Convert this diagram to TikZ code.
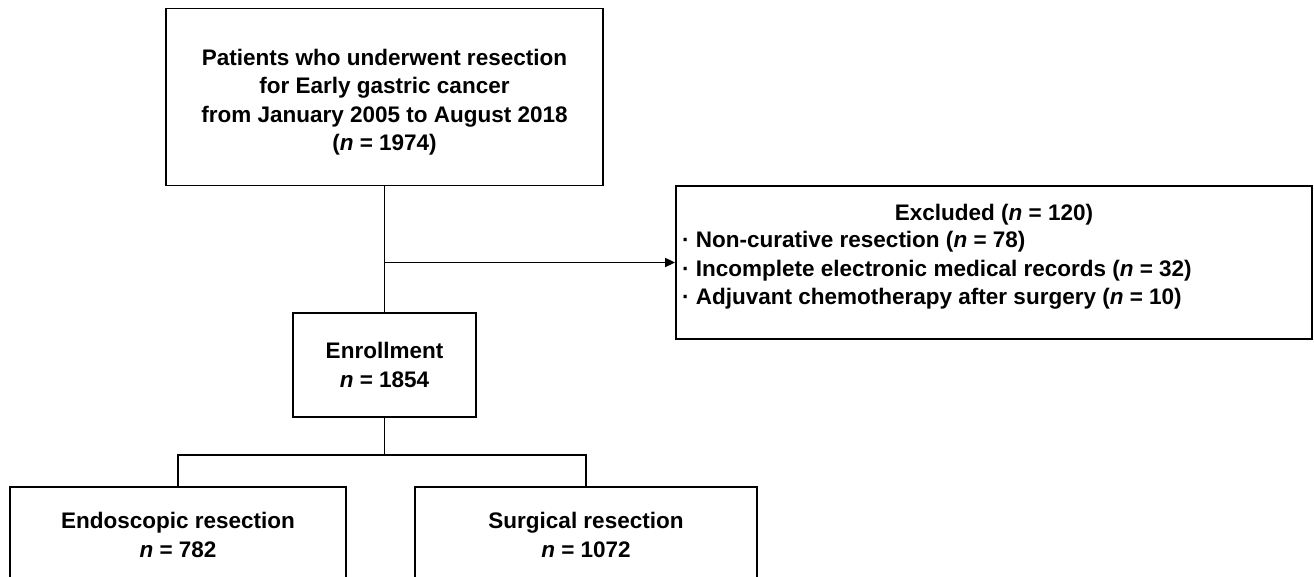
\documentclass[tikz,border=0pt]{standalone}
\usepackage{fontspec}
\setmainfont{Liberation Sans}
\usetikzlibrary{arrows.meta}
\begin{document}
\begin{tikzpicture}[x=1pt,y=-1pt,
  box/.style={draw=black, line width=1.8pt, inner sep=0pt, fill=white},
  lbl/.style={font=\bfseries\fontsize{22.5}{28.5}\selectfont, align=center, inner sep=0pt},
  conn/.style={line width=1.7pt, black},
  arr/.style={conn, -{Triangle[length=10pt,width=9pt]}}]
\useasboundingbox (0,0) rectangle (1314,577);
\clip (0,0) rectangle (1314,577);
% boxes
\node[box, minimum width=437pt, minimum height=177pt] (top) at (384.5,97) {};
\node[box, minimum width=636pt, minimum height=153pt] (excl) at (994,262.5) {};
\node[box, minimum width=183pt, minimum height=104pt] (enr) at (384.5,365) {};
\node[box, minimum width=336pt, minimum height=140pt, anchor=north] (endo) at (178,486) {};
\node[box, minimum width=342pt, minimum height=140pt, anchor=north] (surg) at (586,486) {};
% labels
\node[lbl] (toptext) at (384.5,102) {Patients who underwent resection\\for Early gastric cancer\\from January 2005 to August 2018\\(\textit{n} = 1974)};
\node[lbl] (exclhead) at (994,215) {Excluded (\textit{n} = 120)};
\node[lbl, align=left, anchor=north west] (excllist) at (682,231) {· Non-curative resection (\textit{n} = 78)\\· Incomplete electronic medical records (\textit{n} = 32)\\· Adjuvant chemotherapy after surgery (\textit{n} = 10)};
\node[lbl] (enrtext) at (enr.center) {Enrollment\\\textit{n} = 1854};
\node[lbl] (endotext) at (178,535) {Endoscopic resection\\\textit{n} = 782};
\node[lbl] (surgtext) at (586,535) {Surgical resection\\\textit{n} = 1072};
% connectors
\coordinate (split) at (top.south |- excl.west);
\coordinate (fork) at (384.5,455);
\draw[conn] (top.south) -- (enr.north);
\draw[arr] (split) -- (excl.west);
\draw[conn] (enr.south) -- (fork);
\draw[conn] (endo.north) |- (fork) -| (surg.north);
\end{tikzpicture}
\end{document}
